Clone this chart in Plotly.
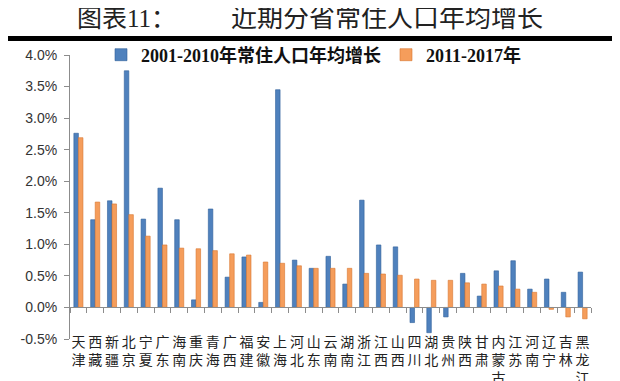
import plotly.graph_objects as go

provinces = ["天津", "西藏", "新疆", "北京", "宁夏", "广东", "海南", "重庆", "青海", "广西",
             "福建", "安徽", "上海", "河北", "山东", "云南", "湖南", "浙江", "江西", "山西",
             "四川", "湖北", "贵州", "陕西", "甘肃", "内蒙古", "江苏", "河南", "辽宁", "吉林", "黑龙江"]
growth_2001_2010 = [2.76, 1.39, 1.69, 3.75, 1.40, 1.89, 1.39, 0.12, 1.56, 0.48,
                    0.80, 0.08, 3.45, 0.75, 0.62, 0.81, 0.37, 1.70, 0.99, 0.96,
                    -0.24, -0.40, -0.15, 0.54, 0.18, 0.58, 0.74, 0.29, 0.45, 0.24, 0.56]
growth_2011_2017 = [2.69, 1.67, 1.64, 1.47, 1.13, 0.99, 0.94, 0.93, 0.90, 0.85,
                    0.83, 0.72, 0.70, 0.66, 0.62, 0.62, 0.62, 0.54, 0.53, 0.51,
                    0.45, 0.43, 0.43, 0.39, 0.37, 0.34, 0.29, 0.24, -0.03, -0.15, -0.18]
series_names = ["2001-2010年常住人口年均增长", "2011-2017年"]
y_ticks = [-0.5, 0.0, 0.5, 1.0, 1.5, 2.0, 2.5, 3.0, 3.5, 4.0]
title_left = "图表11："
title_right = "近期分省常住人口年均增长"

# page body has a default 8px margin, so the figure is drawn offset by 8px
OFF = 8
W, H = 620, 381
PLOT_L, PLOT_R, PLOT_T, PLOT_B = 70, 591, 55, 339  # target screen pixels
ML = PLOT_L - OFF
MT = PLOT_T - OFF
MR = W - (PLOT_R - OFF)
MB = H - (PLOT_B - OFF)
PW, PH = PLOT_R - PLOT_L, PLOT_B - PLOT_T
YMIN, YMAX = -0.5, 4.0

def px_to_paper_x(px):
    return (px - PLOT_L) / PW

def px_to_paper_y(py):
    return (PLOT_B - py) / PH

labels = ["<br>".join(list(p)) for p in provinces]
label_font = "Noto Sans CJK SC"
serif = "Liberation Serif, Noto Sans CJK SC"

fig = go.Figure()
fig.add_trace(go.Bar(x=labels, y=growth_2001_2010, name=series_names[0],
                     marker=dict(color="#4F81BD", line=dict(color="#2F5F9A", width=0.6))))
fig.add_trace(go.Bar(x=labels, y=growth_2011_2017, name=series_names[1],
                     marker=dict(color="#F59D5B", line=dict(color="#D9762F", width=0.6))))
fig.add_trace(go.Scatter(x=labels, y=[None] * len(labels), xaxis="x2", mode="markers",
                         showlegend=False, hoverinfo="skip"))

zero_pos = (0 - YMIN) / (YMAX - YMIN)

fig.update_layout(
    width=W, height=H,
    margin=dict(l=ML, r=MR, t=MT, b=MB, autoexpand=False),
    paper_bgcolor="white", plot_bgcolor="white",
    barmode="group", bargap=0.46, bargroupgap=0,
    showlegend=True,
    legend=dict(orientation="h", x=px_to_paper_x(101), y=px_to_paper_y(55), yanchor="middle",
                xanchor="left", font=dict(family=serif, size=18, color="#111", weight="bold"),
                itemwidth=30, bgcolor="rgba(0,0,0,0)"),
    xaxis=dict(type="category", categoryorder="array", categoryarray=labels,
               range=[-0.5, len(labels) - 0.5], tickmode="array", tickvals=labels,
               ticktext=labels, automargin=False,
               anchor="free", position=0.025, showline=False, ticks="",
               tickfont=dict(family=label_font, size=14, color="#222"),
               showgrid=False, zeroline=False, tickangle=0),
    xaxis2=dict(type="category", categoryorder="array", categoryarray=labels,
                range=[-0.5, len(labels) - 0.5], overlaying="x", matches="x",
                automargin=False,
                anchor="free", position=zero_pos, showline=True, linecolor="#8c8c8c",
                linewidth=1, ticks="outside", tickson="boundaries", ticklen=5,
                tickcolor="#8c8c8c", showticklabels=False, showgrid=False, zeroline=False),
    yaxis=dict(range=[YMIN, YMAX], tickmode="array", tickvals=y_ticks,
               ticktext=[f"{v:.1f}%" for v in y_ticks], automargin=False,
               showline=True, linecolor="#8c8c8c", linewidth=1, ticks="outside",
               ticklen=5, tickcolor="#8c8c8c", showgrid=False, zeroline=False,
               tickfont=dict(family="Liberation Sans, Arial", size=14, color="#333"),
               ticklabelstandoff=4),
)

fig.add_shape(type="line", xref="paper", yref="paper",
              x0=px_to_paper_x(6), x1=px_to_paper_x(613),
              y0=px_to_paper_y(38.5), y1=px_to_paper_y(38.5),
              line=dict(color="black", width=5))

fig.add_annotation(text=title_left, xref="paper", yref="paper",
                   x=px_to_paper_x(75), y=px_to_paper_y(18), xanchor="left", yanchor="middle",
                   showarrow=False, font=dict(family=serif, size=25, color="#222"))
fig.add_annotation(text=title_right, xref="paper", yref="paper",
                   x=px_to_paper_x(229), y=px_to_paper_y(18), xanchor="left", yanchor="middle",
                   showarrow=False, font=dict(family=serif, size=26, color="#222"))

fig.write_html("out.html")
